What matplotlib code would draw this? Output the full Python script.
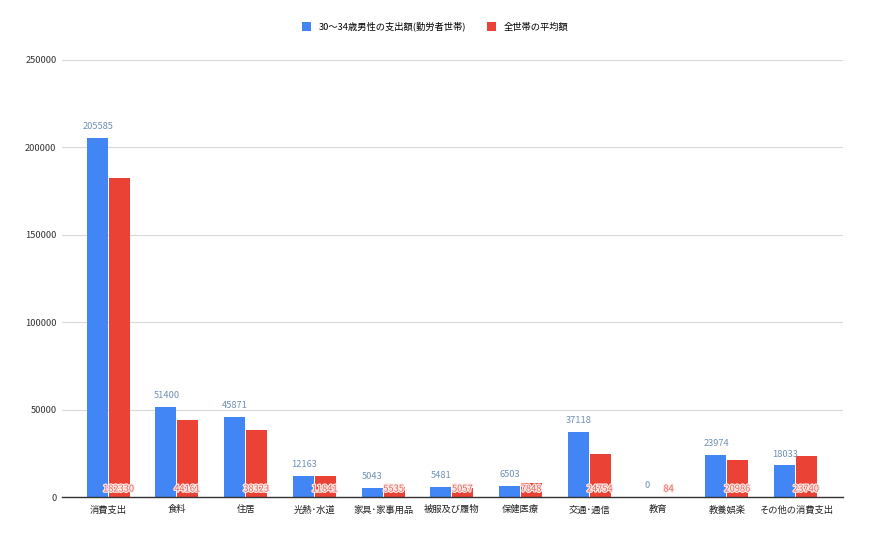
import matplotlib
matplotlib.use('Agg')
import matplotlib.pyplot as plt
import matplotlib.patheffects as pe
import numpy as np

plt.rcParams['font.family'] = ['Noto Sans CJK JP', 'DejaVu Sans']

# data
categories = ['消費支出', '食料', '住居', '光熱･水道', '家具･家事用品', '被服及び履物',
              '保健医療', '交通･通信', '教育', '教養娯楽', 'その他の消費支出']
male_30_34 = [205585, 51400, 45871, 12163, 5043, 5481, 6503, 37118, 0, 23974, 18033]
all_avg = [182330, 44161, 38323, 11841, 5535, 5057, 7848, 24754, 84, 20986, 23740]
series_names = ['30～34歳男性の支出額(勤労者世帯)', '全世帯の平均額']
yticks = [0, 50000, 100000, 150000, 200000, 250000]

blue = '#4285F4'
red = '#EA4335'

fig = plt.figure(figsize=(8.7, 5.38), dpi=100)
ax = fig.add_axes([0.0713, 0.0762, 0.8977, 0.8123])

x = np.arange(len(categories))
w = 0.305
ax.bar(x - w / 2 - 0.007, male_30_34, w, color=blue, label=series_names[0], zorder=3)
ax.bar(x + w / 2 + 0.007, all_avg, w, color=red, label=series_names[1], zorder=3)

# value labels
for xi, v in zip(x, male_30_34):
    ax.annotate(str(v), (xi - w / 2, v), xytext=(0, 5), textcoords='offset points',
                ha='center', va='bottom', fontsize=6.7, color='#6f90b4', zorder=4)
for xi, v in zip(x, all_avg):
    ax.annotate(str(v), (xi + w / 2, 0), xytext=(0, 2.5), textcoords='offset points',
                ha='center', va='bottom', fontsize=6.7, color='#e36a60', zorder=4,
                path_effects=[pe.withStroke(linewidth=1.8, foreground='#fde8e6')])

ax.set_ylim(0, 250000)
ax.set_yticks(yticks)
ax.set_yticklabels([str(t) for t in yticks], fontsize=6.7, color='#333333')
ax.set_xticks(x)
ax.set_xticklabels(categories, fontsize=6.7, color='#222222')
ax.set_xlim(-0.67, len(categories) - 0.31)
ax.tick_params(length=0, pad=6)
ax.tick_params(axis='y', pad=4)
ax.grid(axis='y', color='#d9d9d9', linewidth=0.8, zorder=0)
for s in ['top', 'right', 'left']:
    ax.spines[s].set_visible(False)
ax.spines['bottom'].set_color('#333333')
ax.spines['bottom'].set_linewidth(1)
ax.spines['bottom'].set_zorder(5)

fig.legend(loc='upper center', bbox_to_anchor=(0.5, 0.975), ncol=2, frameon=False,
           fontsize=6.7, handlelength=1.0, handleheight=1.0, columnspacing=2.2,
           handletextpad=0.8)

plt.savefig('out.png', dpi=100)
